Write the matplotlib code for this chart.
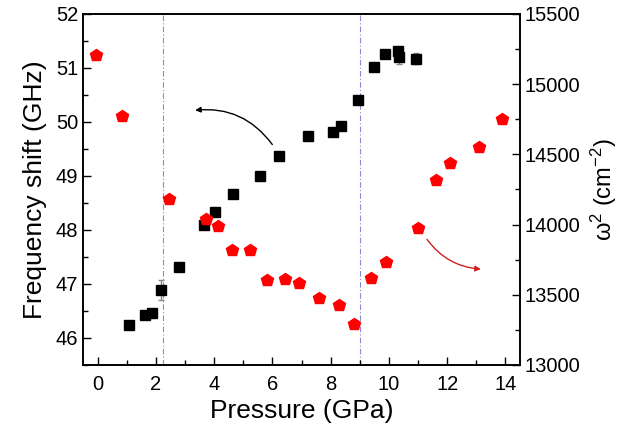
import matplotlib
matplotlib.use("Agg")
import matplotlib.pyplot as plt
from matplotlib.ticker import MultipleLocator

plt.rcParams['font.family'] = ['Liberation Sans', 'DejaVu Sans']
plt.rcParams['mathtext.default'] = 'regular'

# black squares: frequency shift (GHz), left axis
p_freq = [1.06, 1.64, 1.85, 2.17, 2.79, 3.64, 4.03, 4.63, 5.57, 6.21, 7.23, 8.07, 8.36,
          8.93, 9.47, 9.87, 10.31, 10.36, 10.92]
freq = [46.24, 46.43, 46.47, 46.89, 47.32, 48.10, 48.33, 48.66, 49.00, 49.37, 49.74, 49.82, 49.93,
        50.41, 51.02, 51.26, 51.31, 51.20, 51.17]
freq_err = [0.02, 0.03, 0.02, 0.18, 0.02, 0.04, 0.03, 0.02, 0.02, 0.02, 0.02, 0.02, 0.02,
            0.03, 0.03, 0.08, 0.08, 0.12, 0.10]

# red pentagons: omega^2 (cm^-2), right axis
p_omega = [-0.05, 0.83, 2.45, 3.71, 4.14, 4.62, 5.22, 5.82, 6.43, 6.91, 7.61, 8.28, 8.80,
           9.40, 9.91, 10.99, 11.60, 12.10, 13.10, 13.89]
omega2 = [15209, 14771, 14179, 14040, 13989, 13819, 13819, 13604, 13611, 13585, 13474, 13428, 13291,
          13620, 13734, 13978, 14316, 14439, 14555, 14754]

transitions = [2.25, 9.0]

fig = plt.figure(figsize=(6.23, 4.34), dpi=100)
ax = fig.add_axes([0.1335, 0.159, 0.7012, 0.809])
ax2 = ax.twinx()

for xv in transitions:
    ax.axvline(xv, color='#8a8ad8', lw=0.8, ls=(0, (5, 2, 1, 2)), zorder=0)

ax.errorbar(p_freq, freq, yerr=freq_err, fmt='s', color='black', ms=6.5,
            ecolor='#888888', elinewidth=1, capsize=2.5, capthick=1, zorder=3)
ax2.plot(p_omega, omega2, 'p', color='#ff0000', ms=9, mec='#ff0000', zorder=4)

ax.annotate('', xy=(3.25, 50.21), xytext=(6.05, 49.54),
            arrowprops=dict(arrowstyle='-|>', color='black', lw=1,
                            connectionstyle='arc3,rad=0.3', mutation_scale=8))
ax2.annotate('', xy=(13.25, 13682), xytext=(11.25, 13911),
             arrowprops=dict(arrowstyle='-|>', color='#d02020', lw=1,
                             connectionstyle='arc3,rad=0.25', mutation_scale=8))

ax.set_xlim(-0.5, 14.5)
ax.set_ylim(45.5, 52)
ax2.set_ylim(13000, 15500)

ax.xaxis.set_major_locator(MultipleLocator(2))
ax.xaxis.set_minor_locator(MultipleLocator(1))
ax.yaxis.set_major_locator(MultipleLocator(1))
ax.yaxis.set_minor_locator(MultipleLocator(0.5))
ax2.yaxis.set_major_locator(MultipleLocator(500))
ax2.yaxis.set_minor_locator(MultipleLocator(250))

for a in (ax, ax2):
    a.tick_params(which='major', direction='in', length=6, width=1, labelsize=14.5)
    a.tick_params(which='minor', direction='in', length=3.5, width=1)
    for s in a.spines.values():
        s.set_linewidth(1.2)
ax.tick_params(axis='x', which='both', top=False, pad=7)
ax.tick_params(axis='y', which='both', right=False)

ax.set_xlabel('Pressure (GPa)', fontsize=19, labelpad=4)
ax.set_ylabel('Frequency shift (GHz)', fontsize=19, labelpad=6)
ax2.set_ylabel('ω$^2$ (cm$^{-2}$)', fontsize=17, labelpad=6, rotation=90)

fig.savefig('out.png', dpi=100)
